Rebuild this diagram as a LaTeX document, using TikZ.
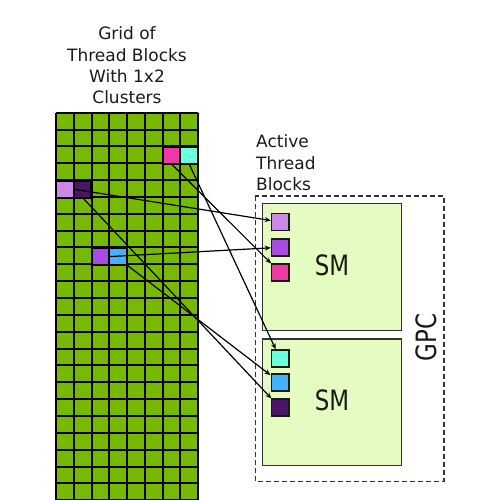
\documentclass[tikz,border=0pt]{standalone}
\usepackage{fontspec}
\setmainfont{DejaVu Sans}
\usetikzlibrary{arrows.meta}
\definecolor{nvgreen}{HTML}{76B900}
\definecolor{smfill}{HTML}{E4FCC0}
\definecolor{clav}{HTML}{CC88E8}
\definecolor{cdark}{HTML}{4A1668}
\definecolor{cpurple}{HTML}{A94AE0}
\definecolor{cblue}{HTML}{44B0FF}
\definecolor{cpink}{HTML}{EE3AA4}
\definecolor{caqua}{HTML}{6CFFDC}
\definecolor{txt}{HTML}{1A1A1A}
\tikzset{
  cellbox/.style={draw=black, line width=2pt, minimum width=17.75pt, minimum height=16.85pt, inner sep=0pt, outer sep=0pt},
  blockbox/.style={draw=black!90, line width=1.5pt, minimum width=17.5pt, minimum height=17pt, inner sep=0pt},
  smbox/.style={draw=black!80, line width=1.5pt, fill=smfill},
  gpcbox/.style={draw=black!80, line width=1.3pt, dash pattern=on 5pt off 3pt},
  conn/.style={draw=black, line width=1.2pt, -{Stealth[length=6pt,width=5pt]}},
  lbl/.style={font=\fontsize{17}{21}\selectfont, text=txt, inner sep=0pt},
  biglbl/.style={font=\fontsize{28}{30}\selectfont, text=txt, inner sep=0pt}
}
\begin{document}
\begin{tikzpicture}[x=1pt,y=-1pt]
\useasboundingbox (0,0) rectangle (504,500);
\clip (0,0) rectangle (504,500);
% titles
\node[lbl, anchor=base] (t1) at (127,40) {Grid of};
\node[lbl, anchor=base] (t2) at (127,61.5) {Thread Blocks};
\node[lbl, anchor=base] (t3) at (127,83) {With 1x2};
\node[lbl, anchor=base] (t4) at (127,104) {Clusters};
\node[lbl, anchor=base west] (a1) at (256,148) {Active};
\node[lbl, anchor=base west] (a2) at (256,169.3) {Thread};
\node[lbl, anchor=base west] (a3) at (256,190.7) {Blocks};
% grid
\fill[nvgreen] (56,112.7) rectangle (198,510);
\foreach \i in {0,...,8} {
  \draw[line width=2pt, black] ({56+17.75*\i},112.7) -- ({56+17.75*\i},510);
}
\foreach \j in {0,...,23} {
  \draw[line width=2pt, black] (56,{112.7+16.85*\j}) -- (198,{112.7+16.85*\j});
}
% coloured cells
\node[cellbox, fill=cpink] (pink) at (171.4,155.4) {};
\node[cellbox, fill=caqua] (aqua) at (189.1,155.4) {};
\node[cellbox, fill=clav] (lav) at (64.9,189.2) {};
\node[cellbox, fill=cdark] (dark) at (82.6,189.2) {};
\node[cellbox, fill=cpurple] (purple) at (100.4,256.6) {};
\node[cellbox, fill=cblue] (blue) at (118.1,256.6) {};
% GPC and SMs
\draw[gpcbox] (255.3,196) rectangle (444,481.3);
\node[biglbl, rotate=90] (gpc) at (426,337.5) {\scalebox{0.82}[1]{GPC}};
\draw[smbox] (262.3,203.7) rectangle (401.7,330.7);
\draw[smbox] (262.3,339) rectangle (401.7,465.7);
\node[biglbl] (sm1) at (332,265.5) {\scalebox{0.82}[1]{SM}};
\node[biglbl] (sm2) at (332,400) {\scalebox{0.82}[1]{SM}};
% active blocks
\node[blockbox, fill=clav] (slav) at (280.3,222) {};
\node[blockbox, fill=cpurple] (spurple) at (280.3,247.3) {};
\node[blockbox, fill=cpink] (spink) at (280.3,272.7) {};
\node[blockbox, fill=caqua] (saqua) at (280,358.5) {};
\node[blockbox, fill=cblue] (sblue) at (280,382.4) {};
\node[blockbox, fill=cdark] (sdark) at (280,407.7) {};
% connectors
\draw[conn] (lav.east) -- (slav);
\draw[conn] (purple.east) -- (spurple);
\draw[conn] (pink.south) -- (spink);
\draw[conn] (aqua.south) -- (saqua);
\draw[conn] (blue.south east) -- (sblue);
\draw[conn] (dark.south) -- (sdark);
\end{tikzpicture}
\end{document}
